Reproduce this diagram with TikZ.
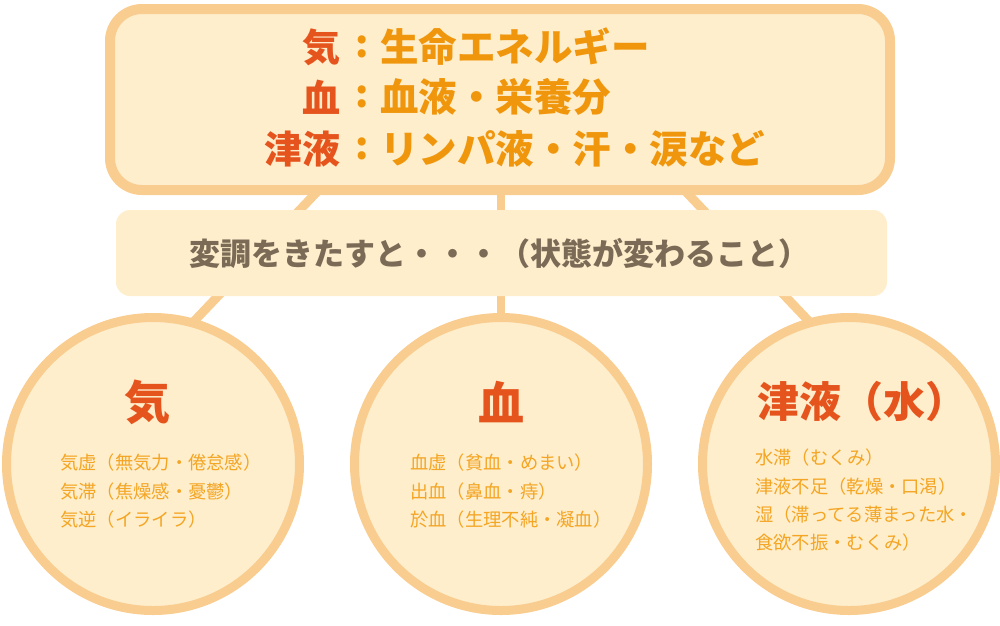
\documentclass[tikz,border=0pt]{standalone}
\usepackage{fontspec}
\newfontfamily\jp{Noto Sans CJK JP}
\definecolor{bordc}{RGB}{249,204,143}
\definecolor{fillc}{RGB}{254,238,204}
\definecolor{headc}{RGB}{230,84,30}
\definecolor{descc}{RGB}{240,150,12}
\definecolor{smallc}{RGB}{244,165,35}
\definecolor{grayc}{RGB}{122,106,86}
\tikzset{
  conn/.style={draw=bordc, line width=9pt},
  topbox/.style={draw=bordc, fill=fillc, line width=10pt, rounded corners=32pt},
  midbox/.style={fill=fillc, rounded corners=14pt},
  circ/.style={draw=bordc, fill=fillc, line width=9pt},
  toplabel/.style={inner sep=0pt, anchor=east, text=headc, font=\jp\bfseries\fontsize{38}{40}\selectfont},
  topcolon/.style={inner sep=0pt, text=descc, font=\jp\bfseries\fontsize{38}{40}\selectfont},
  toptext/.style={inner sep=0pt, anchor=west, text=descc, font=\jp\bfseries\fontsize{38.5}{40}\selectfont},
  midtext/.style={inner sep=0pt, text=grayc, font=\jp\bfseries\fontsize{31}{33}\selectfont},
  head/.style={inner sep=0pt, text=headc, font=\jp\bfseries\fontsize{46}{48}\selectfont},
  item/.style={inner sep=0pt, anchor=west, text=smallc, font=\jp\fontsize{18.3}{20}\selectfont},
}
\begin{document}
\begin{tikzpicture}[x=1pt, y=-1pt]
\useasboundingbox (0,0) rectangle (1000,625);
% connector end points
\coordinate (l1) at (333,175);
\coordinate (l2) at (181,335);
\coordinate (r1) at (670,175);
\coordinate (r2) at (822,335);
\coordinate (m1) at (501,175);
\coordinate (m2) at (501,335);
\draw[conn] (l1) -- (l2);
\draw[conn] (r1) -- (r2);
\draw[conn, line width=8pt] (m1) -- (m2);
% boxes
\draw[topbox] (110,9) rectangle (890,190);
\fill[midbox] (116,210) rectangle (887,296);
% circles
\draw[circ] (153,464) circle (146.5);
\draw[circ] (501,464) circle (146.5);
\draw[circ] (849,464) circle (146.5);
% top texts
\node[toplabel] (qa) at (341,47) {気};
\node[topcolon] (qb) at (362,47) {:};
\node[toptext] (qc) at (380,47) {生命エネルギー};
\node[toplabel] (ba) at (341,97) {血};
\node[topcolon] (bb) at (362,97) {:};
\node[toptext] (bc) at (380,97) {血液・栄養分};
\node[toplabel] (ja) at (341,149) {津液};
\node[topcolon] (jb) at (362,149) {:};
\node[toptext] (jc) at (380,149) {リンパ液・汗・涙など};
% middle text
\node[midtext] (mt) at (499,253) {変調をきたすと・・・（状態が変わること）};
% circle headings
\node[head] (h1) at (147,402) {気};
\node[head] (h2) at (501,402) {血};
\node[head, font=\jp\bfseries\fontsize{42}{44}\selectfont] (h3) at (862,402) {津液（水）};
% circle items
\node[item] (a1) at (60,463) {気虚（無気力・倦怠感）};
\node[item] (a2) at (60,492) {気滞（焦燥感・憂鬱）};
\node[item] (a3) at (60,520) {気逆（イライラ）};
\node[item] (b1) at (410,463) {血虚（貧血・めまい）};
\node[item] (b2) at (410,492) {出血（鼻血・痔）};
\node[item] (b3) at (410,520) {於血（生理不純・凝血）};
\node[item] (c1) at (755,458) {水滞（むくみ）};
\node[item] (c2) at (755,487) {津液不足（乾燥・口渇）};
\node[item] (c3) at (755,515) {湿（滞ってる薄まった水・};
\node[item] (c4) at (755,543) {食欲不振・むくみ）};
\end{tikzpicture}
\end{document}
